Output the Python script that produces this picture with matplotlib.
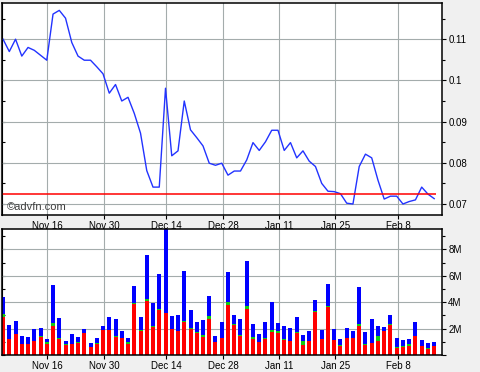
import numpy as np
from matplotlib import pyplot as plt
from matplotlib.ticker import MultipleLocator, FormatStrFormatter, FuncFormatter

# closing price, one value per trading day
price = [0.1100, 0.1070, 0.1100, 0.1059, 0.1080, 0.1073, 0.1061, 0.1049, 0.1161, 0.1170,
         0.1151, 0.1092, 0.1059, 0.1049, 0.1049, 0.1033, 0.1016, 0.0969, 0.0990, 0.0950,
         0.0959, 0.0920, 0.0872, 0.0781, 0.0741, 0.0741, 0.0981, 0.0817, 0.0829, 0.0950,
         0.0880, 0.0861, 0.0841, 0.0799, 0.0794, 0.0799, 0.0770, 0.0780, 0.0780, 0.0807,
         0.0849, 0.0830, 0.0851, 0.0879, 0.0879, 0.0830, 0.0849, 0.0812, 0.0829, 0.0804,
         0.0791, 0.0750, 0.0731, 0.0730, 0.0725, 0.0702, 0.0700, 0.0791, 0.0821, 0.0812,
         0.0758, 0.0712, 0.0719, 0.0719, 0.0700, 0.0706, 0.0710, 0.0741, 0.0724, 0.0713]
ref_price = 0.07236

# volume split (millions): sells (red), neutral (green), buys (blue)
vol_red = [2.90, 1.24, 1.57, 0.83, 0.83, 1.09, 1.39, 0.83, 2.20, 1.24,
           0.73, 0.83, 0.93, 1.69, 0.61, 0.83, 1.89, 1.89, 1.39, 1.26,
           0.86, 3.86, 1.84, 4.09, 2.15, 3.41, 3.21, 1.97, 1.82, 2.50,
           1.97, 1.67, 1.39, 2.75, 1.01, 1.29, 3.81, 2.30, 1.46, 3.51,
           1.24, 0.98, 1.21, 1.74, 1.69, 1.14, 1.09, 1.67, 0.78, 1.06,
           3.26, 1.24, 3.66, 1.14, 0.71, 1.29, 1.29, 2.20, 0.76, 0.93,
           1.09, 1.82, 2.27, 0.53, 0.63, 0.68, 1.44, 0.68, 0.45, 0.68]
vol_green = [0.18, 0.00, 0.00, 0.00, 0.00, 0.00, 0.07, 0.18, 0.25, 0.07,
             0.08, 0.00, 0.08, 0.00, 0.00, 0.10, 0.00, 0.00, 0.07, 0.00,
             0.10, 0.10, 0.08, 0.15, 0.07, 0.07, 0.00, 0.00, 0.00, 0.10,
             0.08, 0.07, 0.15, 0.20, 0.00, 0.00, 0.21, 0.07, 0.08, 0.20,
             0.12, 0.00, 0.08, 0.15, 0.13, 0.07, 0.00, 0.07, 0.28, 0.00,
             0.07, 0.00, 0.08, 0.00, 0.07, 0.00, 0.00, 0.15, 0.07, 0.00,
             0.35, 0.00, 0.08, 0.08, 0.08, 0.15, 0.00, 0.00, 0.08, 0.00]
vol_blue = [1.34, 1.06, 1.01, 0.61, 0.53, 0.88, 0.59, 0.20, 2.85, 1.49,
            0.25, 0.76, 0.35, 0.28, 0.30, 0.36, 0.31, 0.99, 1.27, 0.56,
            0.33, 1.27, 0.96, 3.34, 1.72, 2.66, 6.35, 0.98, 1.21, 3.76,
            1.36, 0.73, 1.11, 1.52, 0.43, 1.18, 2.27, 0.66, 1.19, 3.41,
            0.99, 0.61, 1.21, 2.13, 0.60, 0.99, 0.96, 1.14, 0.46, 0.76,
            0.84, 0.65, 1.64, 0.83, 0.43, 0.76, 0.53, 2.80, 0.91, 1.80,
            0.76, 0.30, 0.68, 0.68, 0.43, 0.38, 1.06, 0.46, 0.38, 0.30]

date_labels = ['Nov 16', 'Nov 30', 'Dec 14', 'Dec 28', 'Jan 11', 'Jan 25', 'Feb 8']
date_pos = [7.09, 16.2, 26.1, 35.2, 44.2, 53.2, 63.2]

x = np.arange(len(price))
red = np.array(vol_red)
green = np.array(vol_green)
blue = np.array(vol_blue)

W, H = 480, 372
fig = plt.figure(figsize=(W / 100, H / 100), dpi=100, facecolor='#f0f0f0')
plt.rcParams['font.family'] = ['Liberation Sans', 'DejaVu Sans']

def box(x0, y0, x1, y1):
    # pixel box -> figure fractions
    return [x0 / W, 1 - y1 / H, (x1 - x0) / W, (y1 - y0) / H]

xlim = (-0.12, 70.25)
grid_col = '#a4acac'

# price panel
ax = fig.add_axes(box(2.3, 2.7, 442, 215))
ax.plot(x, price, color='#2233ff', lw=1.0)
ax.hlines(ref_price, xlim[0], 69.3, color='#ff0000', lw=1.1)
ax.set_xlim(*xlim)
ax.set_ylim(0.06733, 0.11886)
ax.set_xticks(date_pos)
ax.set_xticklabels(date_labels)
ax.yaxis.set_major_locator(MultipleLocator(0.01))
ax.yaxis.set_minor_locator(MultipleLocator(0.005))
ax.yaxis.set_major_formatter(FuncFormatter(lambda v, p: '%g' % round(v, 3)))
ax.yaxis.tick_right()
ax.tick_params(axis='y', which='major', direction='out', length=3, width=0.8, pad=1.5, labelsize=7)
ax.tick_params(axis='y', which='minor', direction='out', length=2, width=0.8)
ax.tick_params(axis='x', direction='out', length=3, width=0.8, pad=1.5, labelsize=7)
ax.grid(True, which='major', color=grid_col, lw=0.8)
ax.set_axisbelow(True)
for s in ax.spines.values():
    s.set_linewidth(1.1)
sec = ax.secondary_yaxis('left')
sec.yaxis.set_major_locator(MultipleLocator(0.005))
sec.tick_params(direction='in', length=2, width=0.8, labelleft=False)
ax.text(0.011, 0.04, '\u00a9advfn.com', transform=ax.transAxes, fontsize=8,
        color='#404040', ha='left', va='center')

# volume panel
av = fig.add_axes(box(2.3, 229.3, 442, 355))
bw = 0.64
av.bar(x, red, bw, color='#ff0000', lw=0)
av.bar(x, green, bw, bottom=red, color='#11cc11', lw=0)
av.bar(x, blue, bw, bottom=red + green, color='#0000ff', lw=0)
av.set_xlim(*xlim)
av.set_ylim(0, 9.52)
av.set_xticks(date_pos)
av.set_xticklabels(date_labels)
av.yaxis.set_major_locator(MultipleLocator(2))
av.yaxis.set_minor_locator(MultipleLocator(1))
av.yaxis.set_major_formatter(FuncFormatter(lambda v, p: '%dM' % v if v > 0 else ''))
av.yaxis.tick_right()
av.tick_params(axis='y', which='major', direction='out', length=3, width=0.8, pad=1.5, labelsize=7)
av.tick_params(axis='y', which='minor', direction='out', length=2, width=0.8)
av.tick_params(axis='x', direction='out', length=3, width=0.8, pad=1.5, labelsize=7)
av.grid(True, which='major', color=grid_col, lw=0.8)
av.set_axisbelow(True)
for s in av.spines.values():
    s.set_linewidth(1.1)
sec2 = av.secondary_yaxis('left')
sec2.yaxis.set_major_locator(MultipleLocator(1))
sec2.tick_params(direction='in', length=2, width=0.8, labelleft=False)

fig.savefig('out.png', dpi=100, facecolor=fig.get_facecolor())
